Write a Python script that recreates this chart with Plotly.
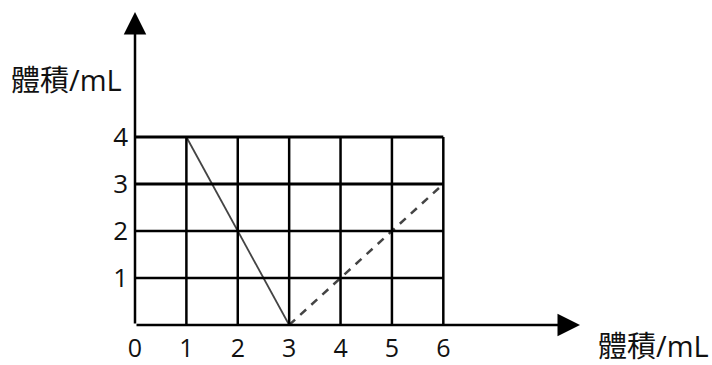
import plotly.graph_objects as go

# データ
x_ticks = [0, 1, 2, 3, 4, 5, 6]
y_ticks = [1, 2, 3, 4]
solid_x = [1, 3]
solid_y = [4, 0]
dashed_x = [3, 6]
dashed_y = [0, 3]
axis_label = "體積/mL"

FONT = "Open Sans, Noto Sans CJK TC"
X_MAX = 8.66
Y_MAX = 6.66

fig = go.Figure()

# 格子
shapes = []
for xv in x_ticks[1:]:
    shapes.append(dict(type="line", xref="x", yref="y", x0=xv, x1=xv, y0=0, y1=max(y_ticks),
                       line=dict(color="black", width=2.5)))
for yv in y_ticks:
    shapes.append(dict(type="line", xref="x", yref="y", x0=0, x1=max(x_ticks), y0=yv, y1=yv,
                       line=dict(color="black", width=3 if yv >= 3 else 2.5)))

# 線
fig.add_trace(go.Scatter(x=solid_x, y=solid_y, mode="lines",
                         line=dict(color="#444", width=1.8), showlegend=False))
fig.add_trace(go.Scatter(x=dashed_x, y=dashed_y, mode="lines",
                         line=dict(color="#444", width=2.5, dash="8px,7px"), showlegend=False))

annotations = [
    # 軸の矢印
    dict(x=X_MAX, y=0, ax=0, ay=0, xref="x", yref="y", axref="x", ayref="y",
         showarrow=True, arrowhead=2, arrowsize=1.8, arrowwidth=2.5, arrowcolor="black", text=""),
    dict(x=0, y=Y_MAX, ax=0, ay=0, xref="x", yref="y", axref="x", ayref="y",
         showarrow=True, arrowhead=2, arrowsize=1.8, arrowwidth=2.5, arrowcolor="black", text=""),
    # 軸ラベル
    dict(x=0, y=0.785, xref="paper", yref="paper", text=axis_label, showarrow=False,
         xanchor="right", yanchor="middle", xshift=-11,
         font=dict(family=FONT, size=29, color="#111")),
    dict(x=1.036, y=-0.064, xref="paper", yref="paper", text=axis_label, showarrow=False,
         xanchor="left", yanchor="middle",
         font=dict(family=FONT, size=29, color="#111")),
]

fig.update_layout(
    width=712, height=365,
    margin=dict(l=135, r=132, t=12, b=40, autoexpand=False),
    plot_bgcolor="white", paper_bgcolor="white",
    shapes=shapes, annotations=annotations,
    xaxis=dict(range=[0, X_MAX], tickvals=x_ticks, showgrid=False, zeroline=False,
               showline=False, ticks="", ticklabelstandoff=6, automargin=False,
               tickfont=dict(family=FONT, size=25, color="#111")),
    yaxis=dict(range=[0, Y_MAX], tickvals=y_ticks, showgrid=False, zeroline=False,
               showline=False, ticks="", ticklabelstandoff=6, automargin=False,
               tickfont=dict(family=FONT, size=26, color="#111")),
)

fig.write_html("out.html", config={"displayModeBar": False},
               post_script="document.body.style.margin='0';")
